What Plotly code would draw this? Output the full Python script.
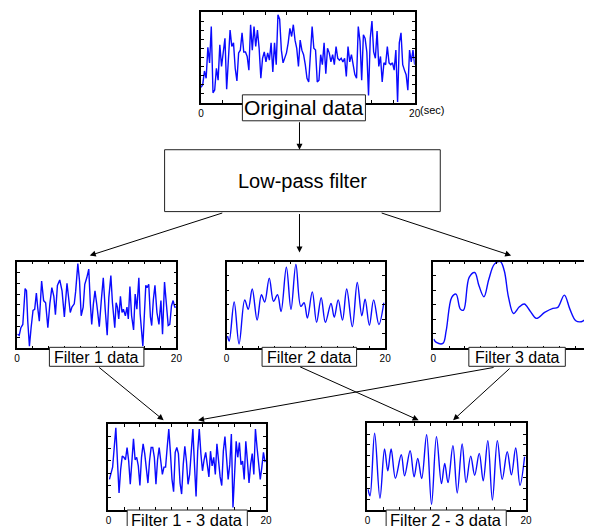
import numpy as np
import plotly.graph_objects as go

# page body adds an 8px margin; the figure is sized so it ends at the window edge
PAD = 8
W, H = 592 - PAD, 526 - PAD

# ---------------- data ----------------
orig_v = [1.7,2.0,3.5,2.7,6.1,4.4,8.4,1.1,1.4,3.8,2.5,6.4,4.0,5.4,7.1,1.5,5.5,8.0,6.2,6.6,
          3.8,2.4,5.5,5.8,7.7,5.6,5.6,5.1,3.6,8.6,5.8,8.4,6.2,8.0,6.0,2.7,4.9,5.6,4.5,5.5,
          4.7,6.6,3.4,6.6,4.2,9.7,9.2,5.8,4.4,4.9,5.5,6.6,8.2,7.3,8.6,6.9,6.0,4.0,6.9,5.8,
          5.3,4.2,2.7,2.3,5.8,8.4,6.0,5.8,2.3,2.5,5.3,4.2,6.6,3.2,6.0,5.5,4.5,5.3,4.2,6.2,
          4.9,4.7,4.9,4.5,4.9,2.9,6.2,4.5,5.3,4.2,3.1,2.7,8.4,6.8,2.5,7.5,7.1,5.6,0.8,7.1,
          9.0,5.6,4.9,7.9,4.0,5.1,2.3,4.4,4.2,6.2,4.4,4.2,4.4,3.6,5.8,0.1,6.6,7.7,4.2,3.6,
          3.1,1.4,5.8,4.5,5.8,4.2]
orig_t = np.linspace(0, 20, len(orig_v))

f1_t = [0.08,0.29,0.50,0.74,1.03,1.20,1.36,1.57,1.78,2.02,2.23,2.44,2.60,2.81,3.10,3.35,3.60,3.88,4.13,4.38,
        4.63,4.83,5.08,5.37,5.66,5.95,6.28,6.49,6.69,6.90,7.19,7.36,7.64,7.85,8.06,8.31,8.51,8.76,9.01,9.21,
        9.38,9.59,9.79,10.04,10.33,10.58,10.83,11.07,11.32,11.53,11.78,11.98,12.27,12.44,12.60,12.77,12.98,13.18,13.35,13.60,
        13.80,13.97,14.17,14.38,14.63,14.83,15.04,15.29,15.45,15.79,15.99,16.16,16.32,16.53,16.74,16.90,17.11,17.31,17.56,17.81,
        18.06,18.26,18.51,18.72,18.97,19.17,19.38,19.59,19.79,20.0]
f1_v = [1.3,1.2,1.9,2.2,5.5,5.3,2.5,0.2,1.9,3.5,3.6,5.1,3.8,2.5,6.2,4.4,4.2,1.9,4.1,5.6,
        4.8,3.1,5.8,6.3,5.3,2.9,6.0,4.8,3.3,3.8,4.1,5.2,7.8,6.2,3.0,3.8,5.9,6.5,7.3,4.1,
        2.2,4.1,5.3,3.9,2.0,4.4,6.5,3.6,1.2,4.7,6.7,4.2,1.9,4.2,3.8,2.7,4.8,3.3,3.6,3.0,
        3.8,2.7,5.7,3.0,1.7,5.0,3.6,6.5,3.2,0.2,4.1,5.8,5.6,5.9,2.9,2.1,4.5,5.8,3.3,2.2,
        4.4,1.3,6.1,4.1,2.1,2.2,3.9,4.4,3.8,3.8]

f2_t = [0.12,0.33,0.95,1.57,2.28,2.73,3.23,3.85,4.39,4.80,5.38,5.92,6.42,6.87,7.54,8.12,8.74,9.36,9.77,
        10.19,10.81,11.35,11.93,12.46,13.17,13.58,14.08,14.62,15.15,15.86,16.48,17.06,17.47,18.01,18.55,19.21,19.83]
f2_v = [0.85,0.5,3.2,0.3,3.35,2.7,4.1,1.95,3.7,3.2,4.85,3.25,3.7,2.55,5.6,2.7,5.8,2.9,3.15,
        2.1,3.9,1.8,3.5,1.8,3.1,2.15,3.35,1.95,4.1,1.5,4.55,2.25,3.4,1.6,3.35,1.65,3.15]

f3_t = [0.04,0.375,1.21,1.625,2.33,2.875,3.42,3.83,4.54,5.25,5.79,6.42,7.04,7.75,8.5,9.0,9.54,10.17,
        10.92,11.54,12.25,13.08,14.125,15.17,15.79,16.625,17.33,18.08,18.79,19.33,19.6]
f3_v = [0.64,0.41,0.34,1.22,3.52,3.75,2.71,2.64,4.9,5.24,4.32,3.56,4.78,5.82,6.0,5.36,3.52,2.41,
        2.87,3.06,2.6,2.07,2.48,2.76,2.83,3.68,2.71,1.91,1.84,2.02,2.1]

f13_v = [2.5,3.1,3.5,5.1,6.7,4.0,1.4,3.3,4.4,4.3,4.1,5.1,4.0,2.1,4.1,5.8,4.1,4.3,3.6,2.0,
         4.3,5.4,4.6,3.5,2.2,4.0,5.1,5.1,4.3,2.1,4.1,5.1,4.1,2.9,3.5,3.5,5.1,6.6,4.7,2.5,
         1.5,4.7,5.1,4.6,2.2,1.3,3.7,5.2,4.0,2.1,2.9,4.8,6.6,3.7,1.1,4.8,6.6,4.6,3.2,4.1,
         4.7,3.7,2.7,4.8,3.6,4.3,2.9,5.4,4.0,2.7,2.0,4.8,6.0,4.0,2.5,3.7,6.2,0.2,3.7,5.6,
         4.3,5.5,3.7,4.0,2.5,5.6,4.0,2.2,3.7,4.6,2.9,6.6,5.1,3.5,2.5,3.5,4.7,3.9]
f13_t = np.linspace(0.12, 19.88, len(f13_v))

f23_t = [0.08,0.33,0.91,1.58,2.16,2.57,2.99,3.53,4.27,4.69,5.39,5.89,6.35,6.85,7.47,8.09,8.71,9.34,9.75,
         10.17,10.79,11.33,11.95,12.45,13.03,13.53,14.11,14.61,15.19,15.77,16.39,17.01,17.64,18.17,18.71,19.25,19.83]
f23_v = [1.91,1.30,7.07,1.08,5.62,3.61,5.62,2.93,5.09,3.15,5.46,3.06,4.75,2.90,6.94,0.52,6.76,2.44,4.29,
         2.53,5.93,1.57,6.08,2.53,4.97,3.21,5.22,2.69,6.39,0.93,6.39,2.84,5.37,3.24,5.71,2.28,4.91]

x_tickvals = [0, 2, 4, 6, 8, 10, 12, 14, 16, 18, 20]
x_ticktext = ["0", "", "", "", "", "", "", "", "", "", "20"]

FONT = "Liberation Sans, Arial, sans-serif"
BLUE = "#0a0aff"


def X(px):
    return (px - PAD) / W


def Y(py):
    return 1 - (py - PAD) / H


panels = [
    dict(t=orig_t, v=orig_v, xd=(201, 418), yd=(12, 103), yr=(0, 10), dt=1, xr=(0, 20), shape="linear", ymir="ticks"),
    dict(t=f1_t, v=f1_v, xd=(14, 176), yd=(262, 349), yr=(0, 8), dt=1, xr=(0, 20), shape="linear", ymir="ticks"),
    dict(t=f2_t, v=f2_v, xd=(227, 388), yd=(262, 349), yr=(0, 6), dt=1, xr=(0, 20), shape="spline", ymir="ticks"),
    dict(t=f3_t, v=f3_v, xd=(437, 592), yd=(262, 349), yr=(0, 6), dt=1, xr=(0, 19.375), shape="spline", ymir=False),
    dict(t=f13_t, v=f13_v, xd=(107, 267), yd=(425, 511), yr=(0, 7), dt=1, xr=(0, 20), shape="linear", ymir="ticks"),
    dict(t=f23_t, v=f23_v, xd=(370, 531), yd=(424, 511), yr=(0, 8), dt=1, xr=(0, 20), shape="spline", ymir="ticks"),
]

fig = go.Figure()
layout = dict(
    width=W, height=H, margin=dict(l=0, r=0, t=0, b=0),
    paper_bgcolor="white", plot_bgcolor="white", showlegend=False,
    font=dict(family=FONT, color="black"),
)

for i, p in enumerate(panels):
    n = "" if i == 0 else str(i + 1)
    fig.add_trace(go.Scatter(x=p["t"], y=p["v"], mode="lines",
                             line=dict(color=BLUE, width=1.4, shape=p["shape"]),
                             xaxis="x" + n, yaxis="y" + n, hoverinfo="skip"))
    layout["xaxis" + n] = dict(
        domain=[X(p["xd"][0]), min(1.0, X(p["xd"][1]))], range=list(p["xr"]), anchor="y" + n,
        showgrid=False, zeroline=False, showline=True, linecolor="black", linewidth=1.5,
        mirror="ticks", ticks="inside", ticklen=3, tickcolor="black", tickwidth=1,
        tickmode="array", tickvals=x_tickvals, ticktext=x_ticktext,
        tickfont=dict(size=10, family=FONT, color="black"), fixedrange=True,
    )
    layout["yaxis" + n] = dict(
        domain=[Y(p["yd"][1]), Y(p["yd"][0])], range=list(p["yr"]), anchor="x" + n,
        showgrid=False, zeroline=False, showline=True, linecolor="black", linewidth=1.5,
        mirror=p["ymir"], ticks="inside", ticklen=3, tickcolor="black", tickwidth=1,
        dtick=p["dt"], tick0=0, showticklabels=False, fixedrange=True,
    )

shapes = []
annotations = []

boxes = [
    (243, 95, 368, 121, "Original data", 21, 108),
    (164, 150, 444, 212, "Low-pass filter", 20, 181),
    (47, 348, 143, 367, "Filter 1 data", 16, 358),
    (263, 348, 359, 367, "Filter 2 data", 16, 358),
    (473, 348, 571, 367, "Filter 3 data", 16, 358),
    (126, 511, 248, 535, "Filter 1 - 3 data", 16.5, 521),
    (389, 511, 511, 535, "Filter 2 - 3 data", 16.5, 521),
]
for x0, y0, x1, y1, txt, fs, ty in boxes:
    shapes.append(dict(type="rect", xref="paper", yref="paper",
                       x0=X(x0), x1=X(x1), y0=Y(y1), y1=Y(y0),
                       line=dict(color="#222222", width=1), fillcolor="white", layer="above"))
    annotations.append(dict(xref="paper", yref="paper", x=X((x0 + x1) / 2), y=Y(ty),
                            text=txt, showarrow=False, xanchor="center", yanchor="middle",
                            font=dict(size=fs, family=FONT, color="black")))

# extra tick text
annotations.append(dict(xref="paper", yref="paper", x=X(421), y=Y(110), text="(sec)",
                        showarrow=False, xanchor="left", yanchor="middle",
                        font=dict(size=11, family=FONT, color="black")))
annotations.append(dict(xref="paper", yref="paper", x=X(597), y=Y(356), text="20",
                        showarrow=False, xanchor="center", yanchor="middle",
                        font=dict(size=10, family=FONT, color="black")))

arrows = [
    ((301, 121), (301, 150)),
    ((222, 213), (88, 256)),
    ((301, 213), (301, 253)),
    ((385, 213), (516, 256)),
    ((97, 367), (163, 421)),
    ((495, 368), (198, 421)),
    ((302, 367), (422, 421)),
    ((515, 368), (457, 421)),
]
for (tx, ty), (hx, hy) in arrows:
    annotations.append(dict(xref="paper", yref="paper", x=X(hx), y=Y(hy),
                            axref="pixel", ayref="pixel", ax=tx - hx, ay=ty - hy,
                            text="", showarrow=True, arrowhead=2, arrowsize=1.2,
                            arrowwidth=1, arrowcolor="black", standoff=0))

layout["shapes"] = shapes
layout["annotations"] = annotations
fig.update_layout(**layout)
fig.write_html("out.html", config={"displayModeBar": False})
